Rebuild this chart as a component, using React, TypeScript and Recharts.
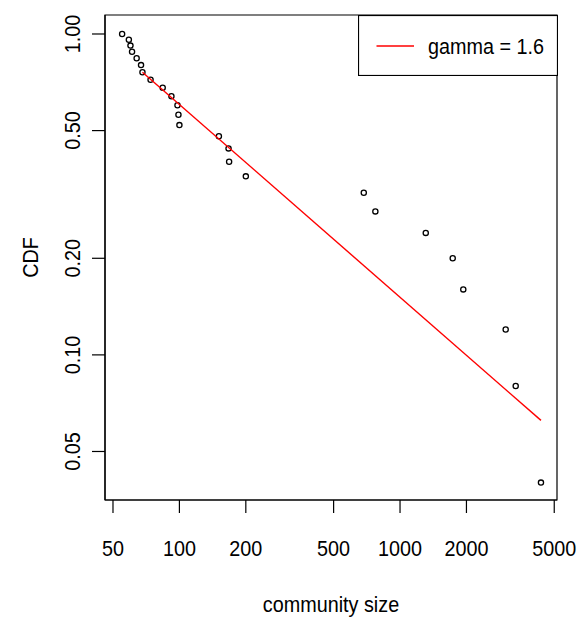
import { ScatterChart, Scatter, XAxis, YAxis, ReferenceArea, Legend } from 'recharts';

const FONT = '"Liberation Sans", Arial, sans-serif';
const FS = 22;
const SX = 0.9; // R's Helvetica renders narrower than Arial

const sizes = [55, 59, 60, 61, 64, 67, 68, 74, 84, 92, 98, 99, 100, 151, 167, 168, 200, 685, 773, 1308, 1733, 1935, 3012, 3344, 4353];
const cdf = [1.0, 0.96, 0.92, 0.88, 0.84, 0.8, 0.76, 0.72, 0.68, 0.64, 0.6, 0.56, 0.52, 0.48, 0.44, 0.4, 0.36, 0.32, 0.28, 0.24, 0.2, 0.16, 0.12, 0.08, 0.04];

// power-law fit line (gamma = 1.6), end points
const fitSizes = [68, 4353];
const fitCdf = [0.76, 0.0625];

const xTicks = [50, 100, 200, 500, 1000, 2000, 5000];
const yTicks = [0.05, 0.1, 0.2, 0.5, 1];
const xDomain = [46, 5146];
const yDomain = [0.0353, 1.146];

const points = sizes.map((s, i) => ({ x: s, y: cdf[i] }));
const fitPoints = fitSizes.map((s, i) => ({ x: s, y: fitCdf[i] }));

function XTick({ x, y, payload }: any) {
  return (
    <text transform={`translate(${x},${y}) scale(${SX},1)`} textAnchor="middle" dy="0.71em" fontSize={FS} fontFamily={FONT} fill="#000">
      {payload.value}
    </text>
  );
}

function YTick({ x, y, payload }: any) {
  return (
    <text transform={`translate(${x},${y}) rotate(-90) scale(${SX},1)`} textAnchor="middle" dy="0.355em" fontSize={FS} fontFamily={FONT} fill="#000">
      {Number(payload.value).toFixed(2)}
    </text>
  );
}

function XTitle({ viewBox }: any) {
  const cx = viewBox.x + viewBox.width / 2;
  return (
    <text transform={`translate(${cx},${viewBox.y + 104.5}) scale(${SX},1)`} textAnchor="middle" dy="0.355em" fontSize={FS} fontFamily={FONT} fill="#000">
      community size
    </text>
  );
}

function YTitle({ viewBox }: any) {
  const cy = viewBox.y + viewBox.height / 2;
  return (
    <text transform={`translate(${viewBox.x + 30},${cy}) rotate(-90) scale(${SX},1)`} textAnchor="middle" dy="0.355em" fontSize={FS} fontFamily={FONT} fill="#000">
      CDF
    </text>
  );
}

function Dot({ cx, cy }: any) {
  return <circle cx={cx} cy={cy} r={2.6} fill="none" stroke="#000" strokeWidth={1.3} />;
}

function FitLegend() {
  return (
    <svg width={200} height={61} style={{ display: 'block' }}>
      <rect x={0.5} y={0.5} width={199} height={60} fill="#fff" stroke="#000" strokeWidth={1.2} />
      <line x1={18.5} x2={56} y1={31} y2={31} stroke="#ff0000" strokeWidth={1.4} />
      <text transform={`translate(70,31) scale(${SX},1)`} dy="0.355em" fontSize={FS} fontFamily={FONT} fill="#000">
        gamma = 1.6
      </text>
    </svg>
  );
}

export default function App() {
  return (
    <div style={{ position: 'absolute', left: 0, top: 0, background: '#fff' }}>
      <ScatterChart width={579} height={625} margin={{ top: 15, right: 22, left: 0, bottom: 0 }}>
        <XAxis
          type="number"
          dataKey="x"
          scale="log"
          domain={xDomain}
          allowDataOverflow
          ticks={xTicks}
          interval={0}
          height={125}
          tickSize={13}
          tickMargin={27}
          axisLine={{ stroke: '#000', strokeWidth: 1.2 }}
          tickLine={{ stroke: '#000', strokeWidth: 1.2 }}
          tick={<XTick />}
          label={<XTitle />}
        />
        <YAxis
          type="number"
          dataKey="y"
          scale="log"
          domain={yDomain}
          allowDataOverflow
          ticks={yTicks}
          interval={0}
          width={105}
          tickSize={13}
          tickMargin={20}
          axisLine={{ stroke: '#000', strokeWidth: 1.2 }}
          tickLine={{ stroke: '#000', strokeWidth: 1.2 }}
          tick={<YTick />}
          label={<YTitle />}
        />
        <ReferenceArea
          x1={xDomain[0]}
          x2={xDomain[1]}
          y1={yDomain[0]}
          y2={yDomain[1]}
          fill="none"
          stroke="#000"
          strokeWidth={1.2}
          ifOverflow="visible"
        />
        <Scatter data={points} shape={<Dot />} isAnimationActive={false} />
        <Scatter
          data={fitPoints}
          line={{ stroke: '#ff0000', strokeWidth: 1.4 }}
          shape={() => <g />}
          isAnimationActive={false}
        />
        <Legend
          layout="vertical"
          align="center"
          verticalAlign="middle"
          content={<FitLegend />}
          wrapperStyle={{ position: 'absolute', left: 358, top: 15, width: 200, height: 61 }}
        />
      </ScatterChart>
    </div>
  );
}
